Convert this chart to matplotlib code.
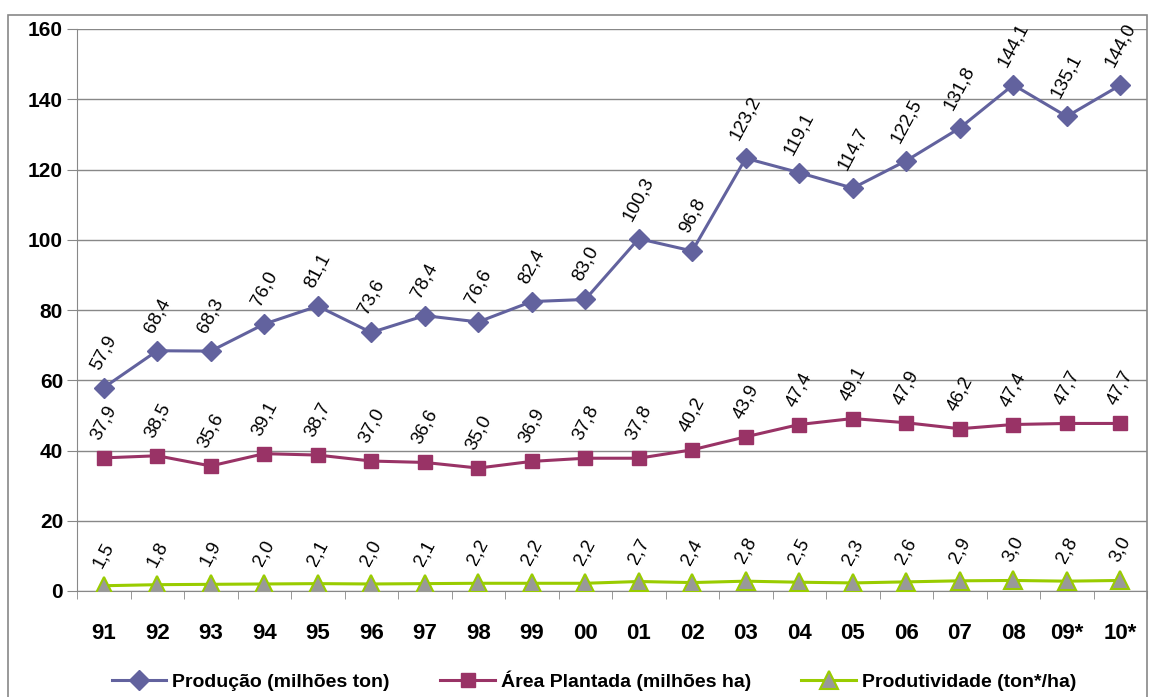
import matplotlib.pyplot as plt
from matplotlib.patches import Rectangle
import numpy as np

plt.rcParams['font.family'] = ['Liberation Sans', 'DejaVu Sans']

anos = ["91", "92", "93", "94", "95", "96", "97", "98", "99", "00",
        "01", "02", "03", "04", "05", "06", "07", "08", "09*", "10*"]
producao = [57.9, 68.4, 68.3, 76.0, 81.1, 73.6, 78.4, 76.6, 82.4, 83.0,
            100.3, 96.8, 123.2, 119.1, 114.7, 122.5, 131.8, 144.1, 135.1, 144.0]
area = [37.9, 38.5, 35.6, 39.1, 38.7, 37.0, 36.6, 35.0, 36.9, 37.8,
        37.8, 40.2, 43.9, 47.4, 49.1, 47.9, 46.2, 47.4, 47.7, 47.7]
produtividade = [1.5, 1.8, 1.9, 2.0, 2.1, 2.0, 2.1, 2.2, 2.2, 2.2,
                 2.7, 2.4, 2.8, 2.5, 2.3, 2.6, 2.9, 3.0, 2.8, 3.0]

fig = plt.figure(figsize=(11.49, 6.97), dpi=100)
ax = fig.add_axes([77/1149, 1 - 591/697, 1070/1149, 562/697])

# moldura externa
fig.patches.append(Rectangle((8/1149, -0.05), 1139/1149, 1.05 - 15/697,
                             transform=fig.transFigure, fill=False,
                             edgecolor='#888888', linewidth=1.2))

x = np.arange(len(anos))
ax.plot(x, producao, color='#62629E', lw=2.2, marker='D', ms=10,
        label='Produção (milhões ton)', zorder=3)
ax.plot(x, area, color='#993366', lw=2.2, marker='s', ms=10,
        label='Área Plantada (milhões ha)', zorder=3)
ax.plot(x, produtividade, color='#99CC00', lw=2.2, marker='^', ms=13,
        markerfacecolor='#999999', markeredgecolor='#99CC00', markeredgewidth=1.5,
        label='Produtividade (ton*/ha)', zorder=3)

for serie in (producao, area, produtividade):
    for xi, v in zip(x, serie):
        ax.annotate(f"{v:.1f}".replace('.', ','), (xi, v), xytext=(0, 11),
                    textcoords='offset points', ha='center', va='bottom',
                    rotation=62, fontsize=13.5, color='black')

ax.set_xlim(-0.5, len(anos) - 0.5)
ax.set_ylim(0, 160)
ax.set_yticks(range(0, 161, 20))
ax.yaxis.grid(True, color='#888888', lw=1)
ax.set_axisbelow(True)
ax.set_xticks(x)
ax.set_xticklabels(anos, fontsize=16, fontweight='bold')
ax.tick_params(axis='x', length=0, pad=23)
ax.set_xticks(np.arange(-0.5, len(anos), 1), minor=True)
ax.tick_params(axis='x', which='minor', length=6, color='#888888')
ax.tick_params(axis='y', labelsize=15, length=7, color='#888888', pad=3)
for lbl in ax.get_yticklabels():
    lbl.set_fontweight('bold')
for s in ('top', 'right'):
    ax.spines[s].set_visible(False)
for s in ('left', 'bottom'):
    ax.spines[s].set_color('#888888')

fig.legend(loc='center', bbox_to_anchor=(0.517, 1 - 681/697), ncol=3,
           frameon=False, prop={'size': 14, 'weight': 'bold'},
           columnspacing=2.6, handlelength=2.8, handletextpad=0.3)

fig.savefig("out.png", dpi=100)
